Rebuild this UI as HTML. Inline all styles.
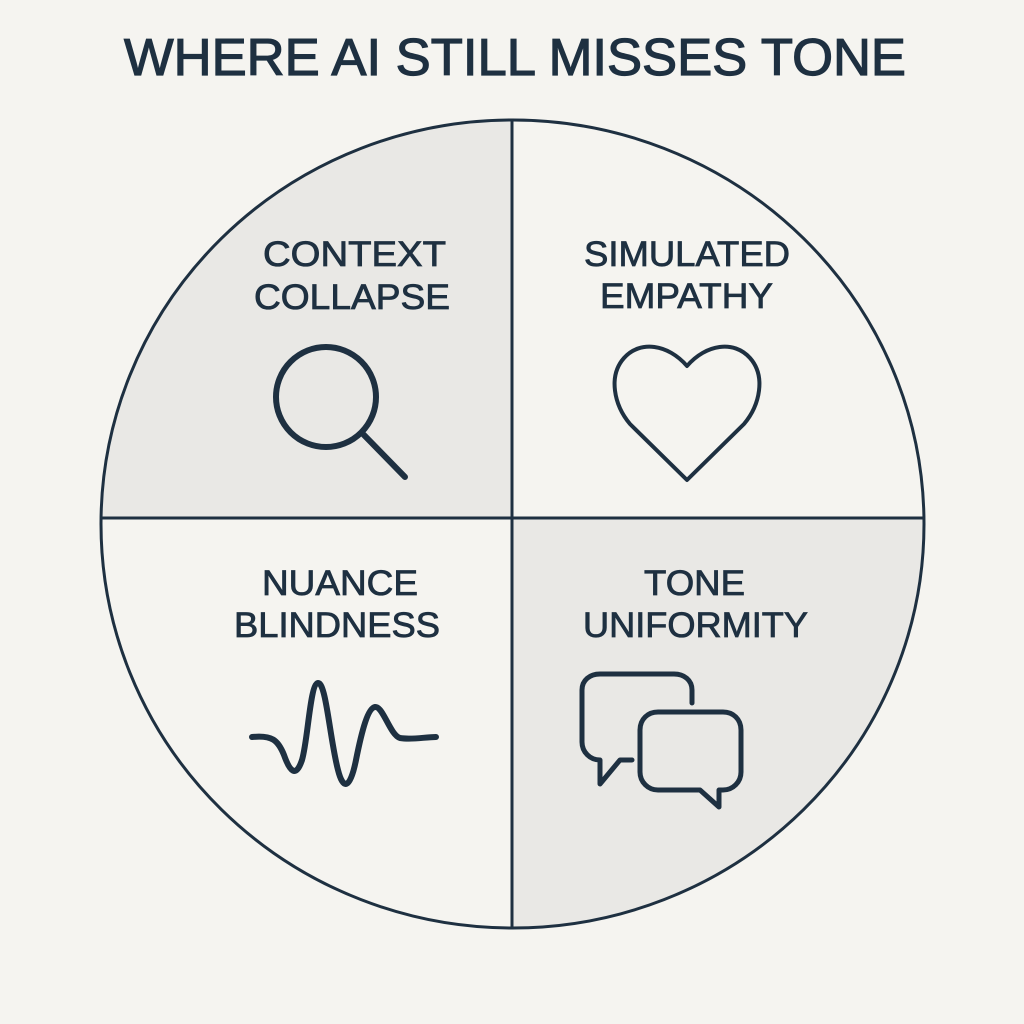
<!DOCTYPE html>
<html><head><meta charset="utf-8"><style>
html,body{margin:0;padding:0;background:#f5f4f0;}
svg{display:block;}
text{font-family:"Liberation Sans","DejaVu Sans",sans-serif;fill:#1e3041;stroke:#1e3041;}
</style></head><body>
<svg width="1024" height="1024" viewBox="0 0 1024 1024" xmlns="http://www.w3.org/2000/svg">
<rect width="1024" height="1024" fill="#f5f4f0"/>
<defs><clipPath id="c"><ellipse cx="512.5" cy="524" rx="411.5" ry="404"/></clipPath></defs>
<g clip-path="url(#c)">
<rect x="90" y="110" width="422" height="408" fill="#e9e8e5"/>
<rect x="512" y="518" width="422" height="420" fill="#e9e8e5"/>
</g>
<ellipse cx="512.5" cy="524" rx="411.5" ry="404" fill="none" stroke="#1e3041" stroke-width="3"/>
<line x1="512" y1="120" x2="512" y2="928" stroke="#1e3041" stroke-width="3"/>
<line x1="101" y1="518" x2="924" y2="518" stroke="#1e3041" stroke-width="3"/>
<text x="124" y="75" font-size="52" stroke-width="1.2" textLength="782" lengthAdjust="spacingAndGlyphs">WHERE AI STILL MISSES TONE</text>
<g font-size="35" stroke-width="0.8">
<text x="263" y="266" textLength="183" lengthAdjust="spacingAndGlyphs">CONTEXT</text>
<text x="254" y="309" textLength="196" lengthAdjust="spacingAndGlyphs">COLLAPSE</text>
<text x="584" y="266" textLength="206" lengthAdjust="spacingAndGlyphs">SIMULATED</text>
<text x="600" y="308" textLength="173" lengthAdjust="spacingAndGlyphs">EMPATHY</text>
<text x="262" y="595" textLength="156" lengthAdjust="spacingAndGlyphs">NUANCE</text>
<text x="234" y="637" textLength="206" lengthAdjust="spacingAndGlyphs">BLINDNESS</text>
<text x="644" y="595" textLength="101" lengthAdjust="spacingAndGlyphs">TONE</text>
<text x="583" y="637" textLength="225" lengthAdjust="spacingAndGlyphs">UNIFORMITY</text>
</g>
<g fill="none" stroke="#1e3041" stroke-width="6" stroke-linecap="round" stroke-linejoin="round">
<circle cx="326" cy="397" r="50"/>
<line x1="362" y1="433" x2="405" y2="477"/>
<path d="M687 366 C668 344 640 340 624 358 C608 376 614 405 630 424 L687 480 L744 424 C760 405 766 376 750 358 C734 340 706 344 687 366 Z" stroke-width="4"/>
<path d="M252 737 C272 735 278 740 284 755 C290 772 296 778 302 760 C308 740 310 684 318 683 C326 682 330 740 338 770 C343 790 350 790 356 760 C362 730 368 708 375 707 C383 706 390 735 400 738 C412 740 425 737 436 737"/>
<path d="M632 760 L620 760 L600 784 L600 760 C590 760 582 752 582 742 L582 690 C582 680 590 674 600 674 L674 674 C684 674 692 680 692 690 L692 703" stroke-width="5"/>
<path d="M640 730 C640 719 648 712 658 712 L723 712 C733 712 741 719 741 730 L741 772 C741 782 733 790 723 790 L719 790 L719 807 L700 790 L658 790 C648 790 640 782 640 772 Z" stroke-width="5"/>
</g>
</svg>
</body></html>
